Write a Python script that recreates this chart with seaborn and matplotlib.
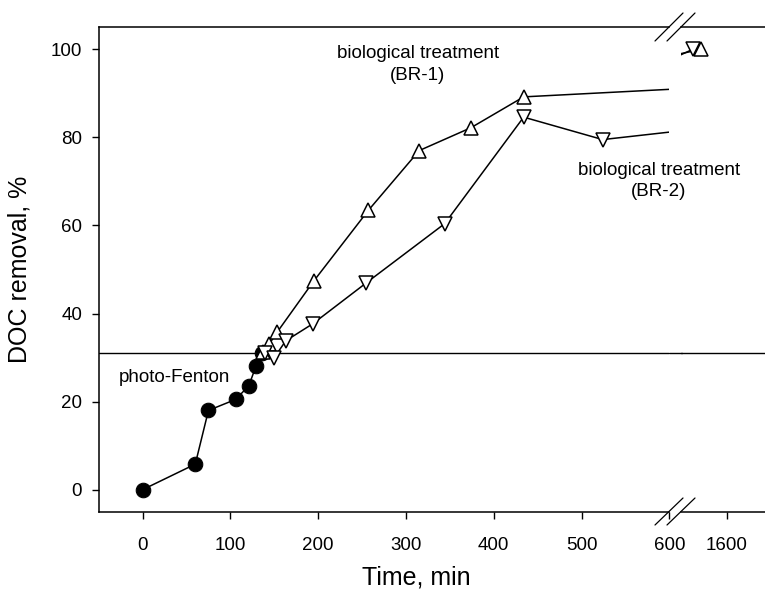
import numpy as np
import pandas as pd
import matplotlib
matplotlib.use("Agg")
import matplotlib.pyplot as plt
from matplotlib.lines import Line2D
import seaborn as sns

# ---- data ----
pf_time = [0, 60, 75, 106, 121, 129, 136]
pf_doc = [0.0, 5.8, 18.0, 20.5, 23.6, 28.0, 31.0]

br1_time = [137, 144, 153, 195, 257, 315, 374, 434, 1480]
br1_doc = [31.3, 33.0, 35.7, 47.4, 63.4, 77.0, 82.2, 89.2, 100.0]

br2_time = [139, 150, 163, 194, 255, 344, 434, 524, 1440]
br2_doc = [31.0, 30.0, 33.8, 37.7, 47.0, 60.4, 84.6, 79.5, 100.0]

phase_line = 31.0
left_ticks = [0, 100, 200, 300, 400, 500, 600]
right_ticks = [1600]
y_ticks = [0, 20, 40, 60, 80, 100]

sns.set_style("white")
plt.rcParams['font.family'] = ['Liberation Sans', 'DejaVu Sans']
plt.rcParams['text.color'] = 'black'
plt.rcParams['axes.labelcolor'] = 'black'

W, H = 765, 589
fig = plt.figure(figsize=(W / 100, H / 100), dpi=100)

def fx(px):
    return px / W

def fy(py):
    return 1 - py / H

bottom = fy(511.7)
height = (511.7 - 27.3) / H
axL = fig.add_axes([fx(98.7), bottom, (669.4 - 98.7) / W, height])
axR = fig.add_axes([fx(681), bottom, (770 - 681) / W, height])

df_pf = pd.DataFrame({"t": pf_time, "v": pf_doc})
df_b1 = pd.DataFrame({"t": br1_time, "v": br1_doc})
df_b2 = pd.DataFrame({"t": br2_time, "v": br2_doc})

for ax in (axL, axR):
    ax.patch.set_alpha(0)
    ax.axhline(phase_line, color="black", lw=1.0, zorder=1)
    sns.lineplot(data=df_pf, x="t", y="v", ax=ax, sort=False, estimator=None,
                 color="black", lw=1.1, marker="o", markersize=10.5,
                 markerfacecolor="black", markeredgecolor="black", zorder=3)
    sns.lineplot(data=df_b1, x="t", y="v", ax=ax, sort=False, estimator=None,
                 color="black", lw=1.1, marker="^", markersize=10.5,
                 markerfacecolor="white", markeredgecolor="black",
                 markeredgewidth=1.1, zorder=4)
    sns.lineplot(data=df_b2, x="t", y="v", ax=ax, sort=False, estimator=None,
                 color="black", lw=1.1, marker="v", markersize=10.5,
                 markerfacecolor="white", markeredgecolor="black",
                 markeredgewidth=1.1, zorder=5)
    ax.set_ylim(-5, 105)
    ax.set_xlabel("")
    ax.set_ylabel("")
    for s in ax.spines.values():
        s.set_color("black")
        s.set_linewidth(1.1)
    ax.tick_params(direction="out", length=5, width=1.0, color="black",
                   labelsize=13.5, labelcolor="black")
    ax.tick_params(axis="x", pad=13)
    ax.tick_params(axis="y", pad=7)

axL.set_xlim(-50, 600)
axL.set_xticks(left_ticks)
axL.set_xticklabels([str(t) for t in left_ticks])
axL.xaxis.get_major_ticks()[-1].tick1line.set_visible(False)
axL.set_yticks(y_ticks)
axL.set_yticklabels([str(v) for v in y_ticks])
axL.spines["right"].set_visible(False)
axL.tick_params(axis="both", which="both", bottom=True, left=True, top=False, right=False)

axR.set_xlim(1385, 1804)
axR.set_xticks(right_ticks)
axR.set_xticklabels([str(t) for t in right_ticks])
axR.set_yticks([])
axR.spines["left"].set_visible(False)
axR.spines["right"].set_visible(False)
axR.tick_params(axis="x", bottom=True, top=False)

# bridge the phase line across the axis break
fig.add_artist(Line2D([fx(669), fx(682)], [fy(353.3), fy(353.3)], color="black",
                      lw=1.0, transform=fig.transFigure))

axL.set_ylabel("DOC removal, %", fontsize=18)
axL.yaxis.set_label_coords((32 - 98.7) / (669.4 - 98.7), 0.5)
fig.text(fx(416), fy(577), "Time, min", ha="center", va="center", fontsize=18)

# annotations
axL.text(-27, 25.5, "photo-Fenton", fontsize=13.5, ha="left", va="center")
fig.text(fx(418), fy(54), "biological treatment", ha="center", va="center", fontsize=13.5)
fig.text(fx(418), fy(75), "(BR-1)", ha="center", va="center", fontsize=13.5)
fig.text(fx(659), fy(170), "biological treatment", ha="center", va="center", fontsize=13.5)
fig.text(fx(659), fy(192), "(BR-2)", ha="center", va="center", fontsize=13.5)

# axis break marks
for (x0, y0, x1, y1) in [(655, 41, 683, 13), (667, 41, 695, 13),
                         (655, 525, 683, 498), (667, 525, 695, 498)]:
    fig.add_artist(Line2D([fx(x0), fx(x1)], [fy(y0), fy(y1)],
                          color="black", lw=0.9, transform=fig.transFigure))

fig.savefig("out.png", dpi=100)
